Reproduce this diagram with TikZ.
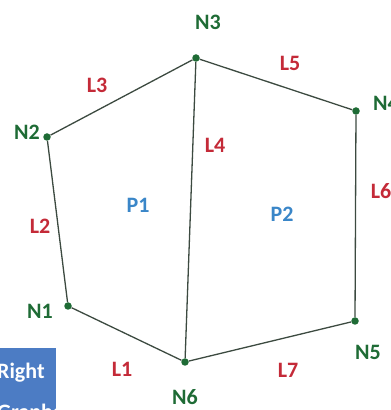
\documentclass[tikz,border=0pt]{standalone}
\usepackage{fontspec}
\setmainfont{Carlito}
\definecolor{ngreen}{HTML}{1E6B35}
\definecolor{lred}{HTML}{C42A38}
\definecolor{pblue}{HTML}{3A86C8}
\definecolor{edgec}{HTML}{3C4A40}
\definecolor{boxblue}{HTML}{4C7CC4}
\tikzset{
  x=1pt,y=1pt,
  vert/.style={circle,fill=ngreen,inner sep=0pt,minimum size=7.5pt},
  lbl/.style={font=\fontsize{22}{22}\selectfont\bfseries,inner sep=0pt},
  nlab/.style={lbl,text=ngreen},
  llab/.style={lbl,text=lred},
  plab/.style={lbl,text=pblue},
  edge/.style={draw=edgec,line width=1.3pt},
}
\begin{document}
\begin{tikzpicture}
\useasboundingbox (0,0) rectangle (391,410);
% blue box
\begin{scope}
\clip (0,0) rectangle (56,62);
\fill[boxblue] (0,0) rectangle (56,62);
\node[text=white,font=\fontsize{22}{22}\selectfont\bfseries,anchor=west,inner sep=0pt] (rt) at (-3,37) {Right};
\node[text=white,font=\fontsize{22}{22}\selectfont\bfseries,anchor=west,inner sep=0pt] (gr) at (-3,-4) {Graph:};
\end{scope}
% vertices
\node[vert] (n3) at (196,352) {};
\node[vert] (n4) at (356,299) {};
\node[vert] (n2) at (47,273) {};
\node[vert] (n1) at (68,104) {};
\node[vert] (n6) at (185,48) {};
\node[vert] (n5) at (355,89) {};
% edges
\draw[edge] (n1) -- (n2);
\draw[edge] (n2) -- (n3);
\draw[edge] (n3) -- (n4);
\draw[edge] (n4) -- (n5);
\draw[edge] (n5) -- (n6);
\draw[edge] (n6) -- (n1);
\draw[edge] (n3) -- (n6);
% node labels
\node[nlab] (t3) at (208,388) {N3};
\node[nlab] (t4) at (386,307) {N4};
\node[nlab] (t2) at (27,278) {N2};
\node[nlab] (t1) at (40,99) {N1};
\node[nlab] (t6) at (185,13) {N6};
\node[nlab] (t5) at (368,58) {N5};
% link labels
\node[llab] (l3) at (97,325) {L3};
\node[llab] (l5) at (290,347) {L5};
\node[llab] (l4) at (215,265) {L4};
\node[llab] (l6) at (381,219) {L6};
\node[llab] (l2) at (40,184) {L2};
\node[llab] (l1) at (122,41) {L1};
\node[llab] (l7) at (288,40) {L7};
% polygon labels
\node[plab] (p1) at (138,205) {P1};
\node[plab] (p2) at (282,196) {P2};
\end{tikzpicture}
\end{document}
